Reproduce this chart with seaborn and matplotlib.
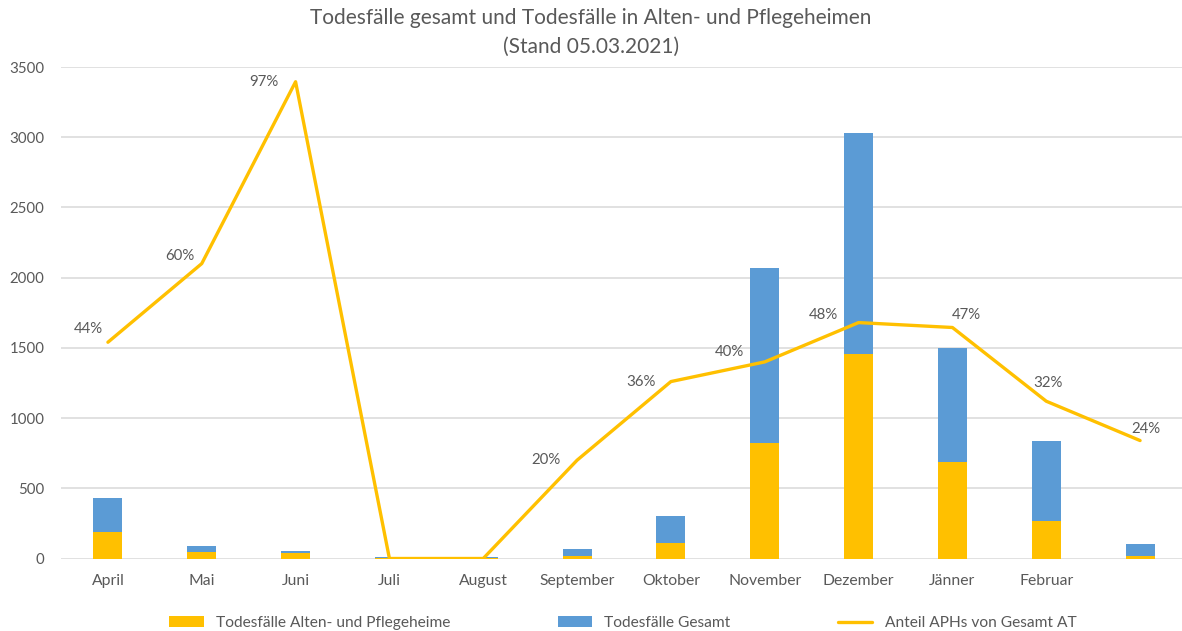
import numpy as np
import pandas as pd
import seaborn as sns
import matplotlib.pyplot as plt
from matplotlib.patches import Patch
from matplotlib.lines import Line2D

# Werte
monate = ["April", "Mai", "Juni", "Juli", "August", "September", "Oktober",
          "November", "Dezember", "Jänner", "Februar", ""]
gesamt = [430, 88, 50, 12, 12, 67, 304, 2072, 3033, 1496, 834, 102]
aph = [188, 48, 38, 2, 1, 17, 109, 819, 1453, 690, 264, 19]
anteil = [0.44, 0.60, 0.97, 0.0, 0.0, 0.20, 0.36, 0.40, 0.48, 0.47, 0.32, 0.24]

blau = "#5B9BD5"
gelb = "#FFC000"
grau = "#595959"

df = pd.DataFrame({"Monat": monate, "Gesamt": gesamt, "APH": aph, "Anteil": anteil})

sns.set_style("white")
plt.rcParams["font.family"] = ["Lato", "DejaVu Sans"]

fig = plt.figure(figsize=(11.82, 6.31), dpi=100)
ax = fig.add_axes([61 / 1182, 1 - 558.5 / 631, 1126 / 1182, (558.5 - 67) / 631])

sns.barplot(data=df, x="Monat", y="Gesamt", order=monate, color=blau,
            saturation=1, width=0.31, errorbar=None, ax=ax, zorder=2, linewidth=0)
sns.barplot(data=df, x="Monat", y="APH", order=monate, color=gelb,
            saturation=1, width=0.31, errorbar=None, ax=ax, zorder=3, linewidth=0)

ax.set_ylim(0, 3500)
ax.set_yticks(range(0, 3501, 500))
ax.set_xlim(-0.5, 11.5)
ax.grid(axis="y", color="#D9D9D9", lw=1.1)
ax.set_axisbelow(True)
ax.set_xlabel("")
ax.set_ylabel("")
for s in ax.spines.values():
    s.set_visible(False)
ax.tick_params(axis="y", length=0, pad=12, labelsize=10.8, labelcolor=grau)
ax.tick_params(axis="x", length=0, pad=11, labelsize=11.3, labelcolor=grau)

# Anteil auf Sekundärachse (ausgeblendet)
ax2 = ax.twinx()
sns.lineplot(x=np.arange(len(monate)), y=anteil, ax=ax2, color=gelb, lw=2.4,
             solid_joinstyle="round")
ax2.set_ylim(0, 1)
ax2.set_yticks([])
ax2.set_xlim(-0.5, 11.5)
for s in ax2.spines.values():
    s.set_visible(False)

# Beschriftungen (Versatz in Pixel, wie im Original platziert)
versatz = [(-20, 13), (-22, 8), (-32, 0), None, None, (-31, 0), (-30, 0),
           (-35, 10), (-35, 8), (14, 12), (2, 18), (6, 12)]
for i, (p, off) in enumerate(zip(anteil, versatz)):
    if off is None:
        continue
    ax2.annotate(f"{p:.0%}", (i, p), xytext=(off[0] * 0.72, off[1] * 0.72),
                 textcoords="offset points", ha="center", va="center",
                 fontsize=10.8, color=grau)

fig.text(0.5, 1 - 18 / 631, "Todesfälle gesamt und Todesfälle in Alten- und Pflegeheimen",
         ha="center", va="center", fontsize=15, color=grau)
fig.text(0.5, 1 - 47 / 631, "(Stand 05.03.2021)",
         ha="center", va="center", fontsize=15, color=grau)

handles = [Patch(color=gelb, lw=0), Patch(color=blau, lw=0),
           Line2D([], [], color=gelb, lw=2.4)]
labels = ["Todesfälle Alten- und Pflegeheime", "Todesfälle Gesamt",
          "Anteil APHs von Gesamt AT"]
fig.legend(handles, labels, loc="center", bbox_to_anchor=(0.527, 1 - 623 / 631),
           ncol=3, frameon=False, fontsize=11.2, handlelength=2.2,
           columnspacing=6.9, labelcolor=grau)

fig.savefig("out.png", dpi=100)
